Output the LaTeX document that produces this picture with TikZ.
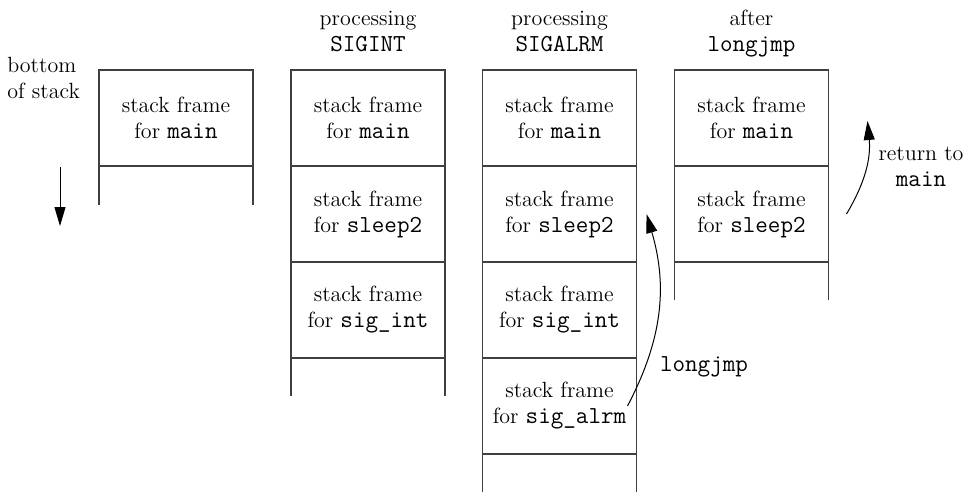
\documentclass[tikz,border=0pt]{standalone}
\usepackage{fontspec}
\usetikzlibrary{arrows.meta,positioning}
\newcommand\code[1]{{\fontsize{12.2}{13}\selectfont\ttfamily #1}}

\begin{document}
\begin{tikzpicture}[x=0.5pt,y=-0.5pt,
    font=\fontsize{11}{13}\selectfont,
    frame/.style={draw=black!75,line width=0.6pt,minimum width=77pt,minimum height=48pt,
      inner sep=0pt,outer sep=0pt,align=center},
    tail/.style={draw=black!75,line width=0.6pt},
    head/.style={align=center,inner sep=0pt,text depth=0pt},
    jump/.style={-{Triangle[length=9.5pt,width=5.5pt]},line width=0.5pt}]
  \useasboundingbox (0,0) rectangle (977,492);

  % before the signals
  \node[anchor=north west,align=left,inner sep=0pt] (bos) at (7,57) {bottom\\of stack};
  \coordinate (grow0) at (60,167);
  \coordinate (grow1) at (60,226);
  \draw[jump] (grow0) -- (grow1);
  \node[frame] (a1) at (176,118) {stack frame\\for \code{main}};
  \draw[tail] (a1.south west) -- ++(0,39) (a1.south east) -- ++(0,39);

  % processing SIGINT
  \node[frame] (b1) at (368,118) {stack frame\\for \code{main}};
  \node[frame,below=0pt of b1] (b2) {stack frame\\for \code{sleep2}};
  \node[frame,below=0pt of b2] (b3) {stack frame\\for \code{sig\_int}};
  \draw[tail] (b3.south west) -- ++(0,38) (b3.south east) -- ++(0,38);
  \node[head,above=9pt of b1] (hb) {processing\\\code{SIGINT}};

  % processing SIGALRM
  \node[frame] (c1) at (559.5,118) {stack frame\\for \code{main}};
  \node[frame,below=0pt of c1] (c2) {stack frame\\for \code{sleep2}};
  \node[frame,below=0pt of c2] (c3) {stack frame\\for \code{sig\_int}};
  \node[frame,below=0pt of c3] (c4) {stack frame\\for \code{sig\_alrm}};
  \draw[tail] (c4.south west) -- ++(0,38) (c4.south east) -- ++(0,38);
  \node[head,above=9pt of c1] (hc) {processing\\\code{SIGALRM}};

  % after longjmp
  \node[frame] (d1) at (751.5,118) {stack frame\\for \code{main}};
  \node[frame,below=0pt of d1] (d2) {stack frame\\for \code{sleep2}};
  \draw[tail] (d2.south west) -- ++(0,38) (d2.south east) -- ++(0,38);
  \node[head,above=9pt of d1] (hd) {after\\\code{longjmp}};

  % jumps
  \draw[jump] ([xshift=-4.5pt]c4.east) to[bend right=22] ([xshift=5pt]c2.east);
  \node (lj) at (704,367) {\code{longjmp}};
  \draw[jump] ([xshift=9pt]d2.east) to[bend right=18] ([xshift=19.5pt,yshift=-1.5pt]d1.east);
  \node[align=center,inner sep=0pt] (rt) at (921,167) {return to\\\code{main}};
\end{tikzpicture}
\end{document}
